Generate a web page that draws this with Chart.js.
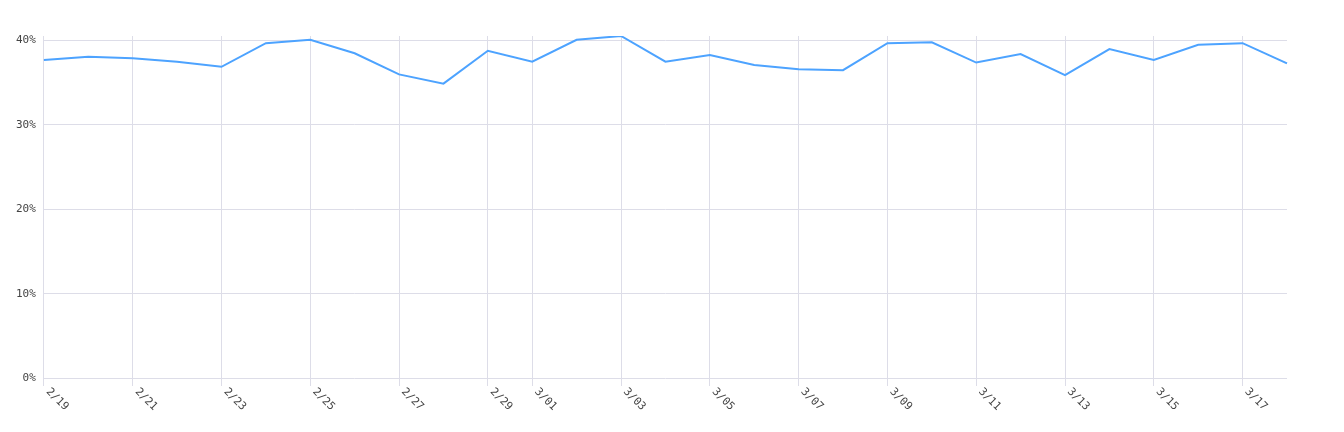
<!DOCTYPE html>
<html>
<head>
<meta charset="utf-8">
<script src="https://cdn.jsdelivr.net/npm/chart.js@4.4.1/dist/chart.umd.min.js"></script>
<style>
  body { margin: 0; background: #fff; }
  #wrap { width: 1344px; height: 432px; }
</style>
</head>
<body>
<div id="wrap"><canvas id="rateChart" width="1344" height="432"></canvas></div>
<script>
// daily labels, 2/19 - 3/18
const dates = ["2/19", "2/20", "2/21", "2/22", "2/23", "2/24", "2/25", "2/26", "2/27", "2/28", "2/29",
    "3/01", "3/02", "3/03", "3/04", "3/05", "3/06", "3/07", "3/08", "3/09", "3/10",
    "3/11", "3/12", "3/13", "3/14", "3/15", "3/16", "3/17", "3/18"];

// percent values
const rates = [37.7, 38.1, 37.9, 37.5, 36.9, 39.7, 40.1, 38.5, 36.0, 34.9, 38.8,
    37.5, 40.1, 40.55, 37.5, 38.3, 37.1, 36.6, 36.5, 39.7, 39.8,
    37.4, 38.4, 35.9, 39.0, 37.7, 39.5, 39.7, 37.3];

// which dates get a tick + grid line
const dateTicks = ["2/19", "2/21", "2/23", "2/25", "2/27", "2/29", "3/01", "3/03", "3/05",
    "3/07", "3/09", "3/11", "3/13", "3/15", "3/17"];

const percentTicks = [0, 10, 20, 30, 40];

const tickFont = { family: "'DejaVu Sans Mono', monospace", size: 11 };
const tickColor = "#444";
const gridColor = "#dddde8";

// x labels run down to the right, so draw them ourselves
const slantedLabels = {
    id: "slantedLabels",
    afterDraw(chart) {
        const scale = chart.scales.x;
        const ctx = chart.ctx;
        ctx.save();
        ctx.font = tickFont.size + "px " + tickFont.family;
        ctx.fillStyle = tickColor;
        ctx.textAlign = "left";
        ctx.textBaseline = "middle";
        scale.ticks.forEach((tick, i) => {
            const x = scale.getPixelForTick(i);
            ctx.save();
            ctx.translate(x + 4, scale.top + 12);
            ctx.rotate(Math.PI / 4);
            ctx.fillText(dates[tick.value], 0, 0);
            ctx.restore();
        });
        ctx.restore();
    }
};

new Chart(document.getElementById("rateChart"), {
    type: "line",
    data: {
        labels: dates,
        datasets: [{
            data: rates,
            borderColor: "#4da3ff",
            borderWidth: 2,
            pointRadius: 0,
            tension: 0,
            fill: false
        }]
    },
    options: {
        responsive: false,
        animation: false,
        layout: { padding: { top: 36, right: 57, bottom: 46, left: 8 } },
        plugins: {
            legend: { display: false },
            tooltip: { enabled: false }
        },
        scales: {
            x: {
                border: { display: false },
                grid: { color: gridColor, tickLength: 8 },
                ticks: { display: false, autoSkip: false },
                afterBuildTicks: scale => {
                    scale.ticks = scale.ticks.filter(t => dateTicks.includes(dates[t.value]));
                }
            },
            y: {
                min: 0,
                max: Math.max(...rates),
                border: { display: false },
                grid: { color: gridColor, drawTicks: false },
                afterBuildTicks: scale => {
                    scale.ticks = percentTicks.map(v => ({ value: v }));
                },
                ticks: {
                    padding: 8,
                    color: tickColor,
                    font: tickFont,
                    callback: v => v + "%"
                }
            }
        }
    },
    plugins: [slantedLabels]
});
</script>
</body>
</html>
